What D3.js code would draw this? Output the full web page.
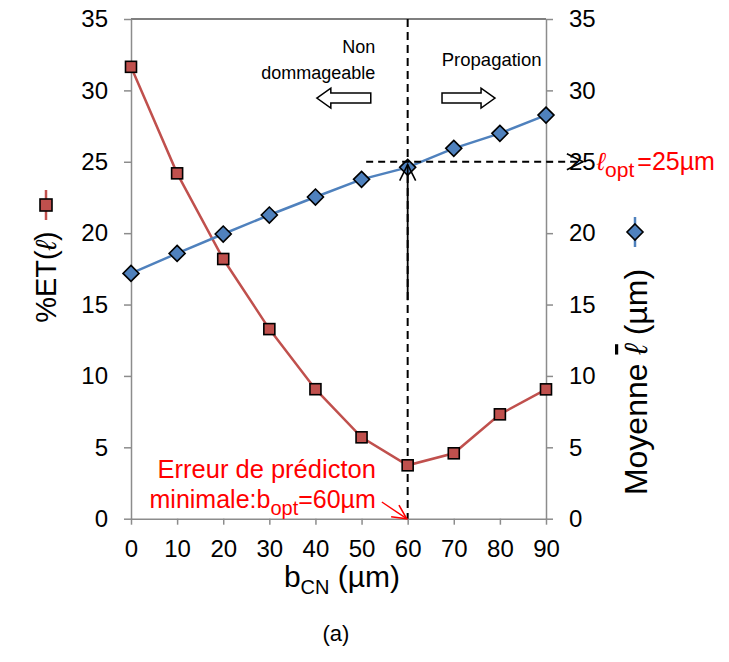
<!DOCTYPE html>
<html><head><meta charset="utf-8">
<script src="https://cdn.jsdelivr.net/npm/d3@7"></script>
<style>
body{margin:0;background:#fff;}
text{font-family:"Liberation Sans",Arial,sans-serif;}
</style></head>
<body><svg id="c" width="729" height="662"></svg>
<script>
const bValues = [0,10,20,30,40,50,60,70,80,90];
const etValues = [31.65,24.19,18.19,13.28,9.07,5.70,3.74,4.58,7.31,9.06];
const meanValues = [17.18,18.58,19.94,21.27,22.53,23.77,24.61,25.94,26.99,28.27];
const yTicks = [0,5,10,15,20,25,30,35];
const xTicks = [0,10,20,30,40,50,60,70,80,90];

const svg = d3.select("#c");
const L=131,R=546,T=19,B=518.7;
const x = d3.scaleLinear().domain([0,90]).range([L,R]);
const y = d3.scaleLinear().domain([0,35]).range([B,T]);
const red="#C0504D", blue="#4F81BD", axisCol="#8C8C8C";

svg.append("defs").html(`
<marker id="ah" markerWidth="20" markerHeight="20" refX="17" refY="9" orient="auto" markerUnits="userSpaceOnUse">
<path d="M1,1 L17,9 L1,17" fill="none" stroke="#000" stroke-width="1.6"/></marker>
<marker id="ahr" markerWidth="18" markerHeight="18" refX="15" refY="8" orient="auto" markerUnits="userSpaceOnUse">
<path d="M1,1 L15,8 L1,15" fill="none" stroke="#FF0000" stroke-width="1.6"/></marker>`);

svg.append("line").attr("x1",L).attr("x2",R).attr("y1",T).attr("y2",T).attr("stroke","#000").attr("stroke-width",1.2);

function styleAxis(g){
  g.select(".domain").attr("stroke",axisCol).attr("stroke-width",1.5);
  g.selectAll(".tick line").attr("stroke",axisCol).attr("stroke-width",1.5);
  g.selectAll("text").attr("font-size",24).attr("fill","#000").attr("font-family",'"Liberation Sans",Arial,sans-serif');
}
svg.append("g").attr("transform",`translate(0,${B})`)
  .call(d3.axisBottom(x).tickValues(xTicks).tickSize(6).tickPadding(15).tickSizeOuter(0))
  .call(styleAxis);
svg.append("g").attr("transform",`translate(${L},0)`)
  .call(d3.axisLeft(y).tickValues(yTicks).tickSize(7).tickPadding(16).tickSizeOuter(0))
  .call(styleAxis);
svg.append("g").attr("transform",`translate(${R},0)`)
  .call(d3.axisRight(y).tickValues(yTicks).tickSize(7).tickPadding(16).tickSizeOuter(0))
  .call(styleAxis);

svg.append("line").attr("x1",x(60)).attr("x2",x(60)).attr("y1",y(35)).attr("y2",y(0))
  .attr("stroke","#000").attr("stroke-width",2).attr("stroke-dasharray","8,5");

const line = vals => d3.line().x((d,i)=>x(bValues[i])).y(d=>y(d))(vals);
svg.append("path").attr("d",line(etValues)).attr("fill","none").attr("stroke",red).attr("stroke-width",2.5);
svg.append("path").attr("d",line(meanValues)).attr("fill","none").attr("stroke",blue).attr("stroke-width",2.5);

const sq=11, dm=8;
svg.selectAll(".sq").data(etValues).enter().append("rect")
  .attr("x",(d,i)=>x(bValues[i])-sq/2).attr("y",d=>y(d)-sq/2).attr("width",sq).attr("height",sq)
  .attr("fill",red).attr("stroke","#000").attr("stroke-width",1.6);
const diamond = (cx,cy)=>`M${cx},${cy-dm}L${cx+dm},${cy}L${cx},${cy+dm}L${cx-dm},${cy}Z`;
svg.selectAll(".dm").data(meanValues).enter().append("path")
  .attr("d",(d,i)=>diamond(x(bValues[i]),y(d)))
  .attr("fill",blue).attr("stroke","#000").attr("stroke-width",1.6);

svg.append("line").attr("x1",x(51)).attr("x2",x(98)).attr("y1",y(25)).attr("y2",y(25))
  .attr("stroke","#000").attr("stroke-width",1.8).attr("stroke-dasharray","7,5").attr("marker-end","url(#ah)");
svg.append("line").attr("x1",x(60)).attr("x2",x(60)).attr("y1",y(15.3)).attr("y2",y(24.8))
  .attr("stroke","#000").attr("stroke-width",1.8).attr("marker-end","url(#ah)");

function blockArrow(x0,x1,yc,dir){
  const bh=5, hh=10, hl=14;
  let p;
  if(dir<0){
    p=[[x0,yc],[x0+hl,yc-hh],[x0+hl,yc-bh],[x1,yc-bh],[x1,yc+bh],[x0+hl,yc+bh],[x0+hl,yc+hh]];
  } else {
    p=[[x1,yc],[x1-hl,yc-hh],[x1-hl,yc-bh],[x0,yc-bh],[x0,yc+bh],[x1-hl,yc+bh],[x1-hl,yc+hh]];
  }
  svg.append("path").attr("d","M"+p.map(q=>q.join(",")).join("L")+"Z")
    .attr("fill","#fff").attr("stroke","#000").attr("stroke-width",1.5);
}
blockArrow(x(40.3),x(52),y(29.46),-1);
blockArrow(x(67.45),x(78.95),y(29.46),1);

const txt=(tx,ty,s,size,anchor,fill)=>svg.append("text").attr("x",tx).attr("y",ty).text(s)
  .attr("font-size",size).attr("text-anchor",anchor||"start").attr("fill",fill||"#000");
txt(x(53),53,"Non",18,"end");
txt(x(53),79,"dommageable",18,"end");
txt(x(67.4),66,"Propagation",18.5,"start");

txt(x(53.1),478,"Erreur de prédicton",25.5,"end","#FF0000");
const r2=svg.append("text").attr("x",x(53.1)).attr("y",508).attr("text-anchor","end").attr("fill","#FF0000").attr("font-size",25);
r2.append("tspan").text("minimale:b");
r2.append("tspan").text("opt").attr("font-size",20).attr("dy",7);
r2.append("tspan").text("=60µm").attr("dy",-7);
svg.append("line").attr("x1",x(54.4)).attr("y1",y(1.17)).attr("x2",x(60)-1).attr("y2",y(0))
  .attr("stroke","#FF0000").attr("stroke-width",1.4).attr("marker-end","url(#ahr)");

const r3=svg.append("text").attr("x",597).attr("y",170).attr("fill","#FF0000").attr("font-size",25);
r3.append("tspan").text("ℓ").attr("font-style","italic");
r3.append("tspan").text("opt").attr("font-size",21).attr("dy",7);
r3.append("tspan").text("=25µm").attr("dy",-7).attr("dx",3);

const xt=svg.append("text").attr("x",342).attr("y",587).attr("text-anchor","middle").attr("font-size",30);
xt.append("tspan").text("b");
xt.append("tspan").text("CN").attr("font-size",20).attr("dy",7);
xt.append("tspan").text(" (µm)").attr("dy",-7);
txt(336,641,"(a)",22,"middle");

const lt=svg.append("text").attr("transform","translate(56,277) rotate(-90)").attr("text-anchor","middle").attr("font-size",29);
lt.append("tspan").text("%ET(");
lt.append("tspan").text("ℓ").attr("font-style","italic");
lt.append("tspan").text(")");
svg.append("line").attr("x1",46).attr("x2",46).attr("y1",190).attr("y2",220).attr("stroke",red).attr("stroke-width",2.5);
svg.append("rect").attr("x",46-6).attr("y",205-6).attr("width",12).attr("height",12).attr("fill",red).attr("stroke","#000").attr("stroke-width",1.6);

const rt=svg.append("text").attr("transform","translate(647,382) rotate(-90)").attr("text-anchor","middle").attr("font-size",32);
rt.append("tspan").text("Moyenne ");
rt.append("tspan").text("ℓ").attr("font-style","italic").attr("text-decoration","overline");
rt.append("tspan").text(" (µm)");
svg.append("line").attr("x1",635).attr("x2",635).attr("y1",217).attr("y2",247).attr("stroke",blue).attr("stroke-width",2.5);
svg.append("path").attr("d",diamond(635,232)).attr("fill",blue).attr("stroke","#000").attr("stroke-width",1.6);
</script></body></html>
